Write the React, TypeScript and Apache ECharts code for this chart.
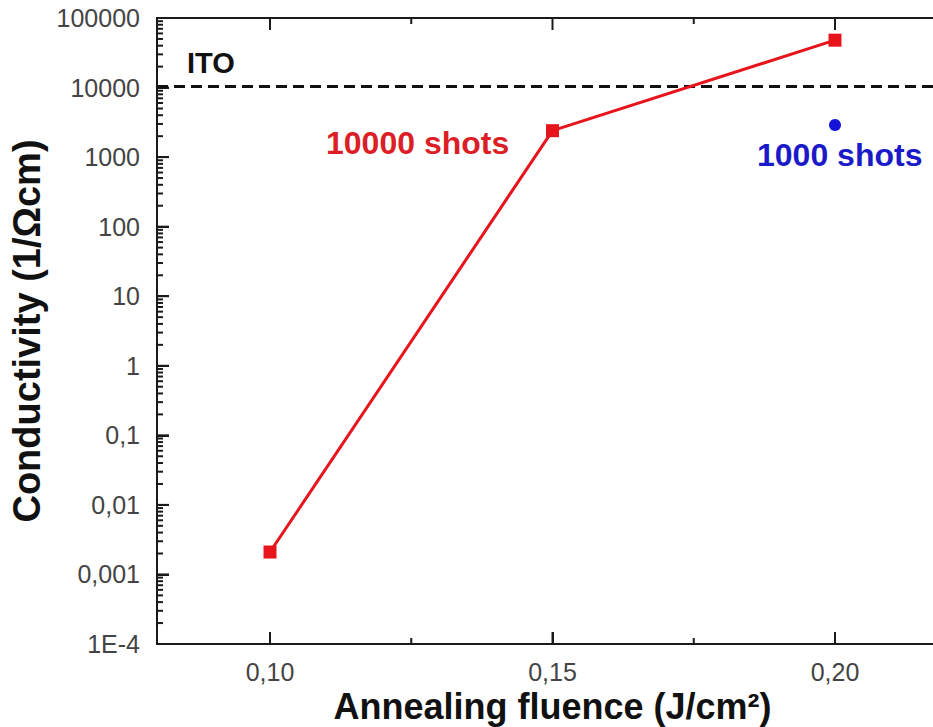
import React, { useEffect, useRef } from "react";
import * as echarts from "echarts";

const fluence10000 = [0.10, 0.15, 0.20];
const conductivity10000 = [0.0021, 2400, 48000];
const fluence1000 = [0.20];
const conductivity1000 = [2900];
const itoConductivity = 10500;

const xMin = 0.08;
const xMax = 0.22;
const yMin = 1e-4;
const yMax = 1e5;
const xMajorTicks = [0.10, 0.15, 0.20];
const xMinorTicks = [0.125, 0.175];
const xTickLabels = ["0,10", "0,15", "0,20"];
const yTickValues = [1e-4, 1e-3, 1e-2, 1e-1, 1, 10, 100, 1000, 10000, 100000];
const yTickLabels = ["1E-4", "0,001", "0,01", "0,1", "1", "10", "100", "1000", "10000", "100000"];
const yMinorMultipliers = [2, 3, 4, 5, 6, 7, 8, 9];

const FONT = "'Liberation Sans', Arial, Helvetica, sans-serif";
const AXIS_COLOR = "#1a1a1a";

function tickSeries(data: number[][], size: number[], offset: number[]) {
  return {
    type: "scatter",
    silent: true,
    clip: false,
    z: 3,
    data,
    symbol: "rect",
    symbolSize: size,
    symbolOffset: offset,
    itemStyle: { color: AXIS_COLOR, opacity: 1 },
    emphasis: { disabled: true },
  };
}

export default function App() {
  const ref = useRef<HTMLDivElement>(null);
  useEffect(() => {
    if (!ref.current) return;
    const chart = echarts.init(ref.current, null, { renderer: "svg" });

    const yMajor = yTickValues.map((v) => [xMin, v]);
    const yMinor: number[][] = [];
    yTickValues.slice(0, -1).forEach((d) => yMinorMultipliers.forEach((m) => yMinor.push([xMin, d * m])));
    const xBottomMajor = xMajorTicks.map((v) => [v, yMin]);
    const xBottomMinor = xMinorTicks.map((v) => [v, yMin]);
    const xTopMajor = xMajorTicks.map((v) => [v, yMax]);
    const xTopMinor = xMinorTicks.map((v) => [v, yMax]);

    chart.setOption({
      animation: false,
      backgroundColor: "#fff",
      grid: {
        left: 157,
        top: 18,
        width: 791,
        height: 626,
        containLabel: false,
        outerBoundsMode: "none",
        show: true,
        borderColor: AXIS_COLOR,
        borderWidth: 2,
        backgroundColor: "transparent",
      },
      xAxis: {
        type: "value",
        min: xMin,
        max: xMax,
        position: "bottom",
        splitLine: { show: false },
        axisLine: { show: true, onZero: false, lineStyle: { color: AXIS_COLOR, width: 2 } },
        axisTick: { show: true, inside: true, length: 12, customValues: xMajorTicks, lineStyle: { color: AXIS_COLOR, width: 2 } },
        name: "Annealing fluence (J/cm²)",
        nameLocation: "middle",
        nameGap: 30,
        nameTextStyle: { fontFamily: FONT, fontSize: 36, fontWeight: "bold", color: "#111" },
        axisLabel: {
          show: true,
          customValues: xMajorTicks,
          margin: 15,
          fontFamily: FONT,
          fontSize: 25,
          color: "#444",
          formatter: (v: number) => {
            const i = xMajorTicks.findIndex((t) => Math.abs(t - v) < 1e-6);
            return i >= 0 ? xTickLabels[i] : "";
          },
        },
      },
      yAxis: {
        type: "log",
        logBase: 10,
        min: yMin,
        max: yMax,
        position: "left",
        splitLine: { show: false },
        axisLine: { show: true, onZero: false, lineStyle: { color: AXIS_COLOR, width: 2 } },
        axisTick: { show: true, inside: true, length: 12, customValues: yTickValues, lineStyle: { color: AXIS_COLOR, width: 2 } },
        name: "Conductivity (1/Ωcm)",
        nameLocation: "middle",
        nameGap: 97,
        nameTextStyle: { fontFamily: FONT, fontSize: 38, fontWeight: "bold", color: "#111" },
        axisLabel: {
          show: true,
          customValues: yTickValues,
          margin: 17,
          fontFamily: FONT,
          fontSize: 25,
          color: "#444",
          formatter: (v: number) => {
            const i = yTickValues.findIndex((t) => Math.abs(Math.log10(t) - Math.log10(v)) < 1e-6);
            return i >= 0 ? yTickLabels[i] : "";
          },
        },
      },
      series: [
        tickSeries(yMajor, [12, 2], [6, 0]),
        tickSeries(yMinor, [6, 2], [3, 0]),
        tickSeries(xBottomMajor, [2, 12], [0, -6]),
        tickSeries(xBottomMinor, [2, 6], [0, -3]),
        tickSeries(xTopMajor, [2, 12], [0, 6]),
        tickSeries(xTopMinor, [2, 6], [0, 3]),
        {
          name: "10000 shots",
          type: "line",
          data: fluence10000.map((x, i) => [x, conductivity10000[i]]),
          symbol: "rect",
          symbolSize: 13,
          itemStyle: { color: "#e8141c" },
          lineStyle: { color: "#e8141c", width: 3 },
          z: 5,
          markLine: {
            silent: true,
            symbol: "none",
            label: { show: false },
            lineStyle: { color: "#111", width: 3, type: [11, 6] },
            data: [{ yAxis: itoConductivity }],
          },
        },
        {
          name: "1000 shots",
          type: "scatter",
          data: fluence1000.map((x, i) => [x, conductivity1000[i]]),
          symbol: "circle",
          symbolSize: 12,
          itemStyle: { color: "#1414d8", opacity: 1 },
          z: 5,
        },
      ],
      graphic: [
        {
          type: "text",
          left: 187,
          top: 48,
          style: { text: "ITO", fontFamily: FONT, fontSize: 29, fontWeight: "bold", fill: "#111" },
        },
        {
          type: "text",
          left: 326,
          top: 127,
          style: { text: "10000 shots", fontFamily: FONT, fontSize: 32, fontWeight: "bold", fill: "#dc1e26" },
        },
        {
          type: "text",
          left: 757,
          top: 139,
          style: { text: "1000 shots", fontFamily: FONT, fontSize: 32, fontWeight: "bold", fill: "#1a1ac8" },
        },
      ],
    });
    return () => chart.dispose();
  }, []);
  return <div ref={ref} style={{ width: 933, height: 727, position: "absolute", left: 0, top: 0 }} />;
}
